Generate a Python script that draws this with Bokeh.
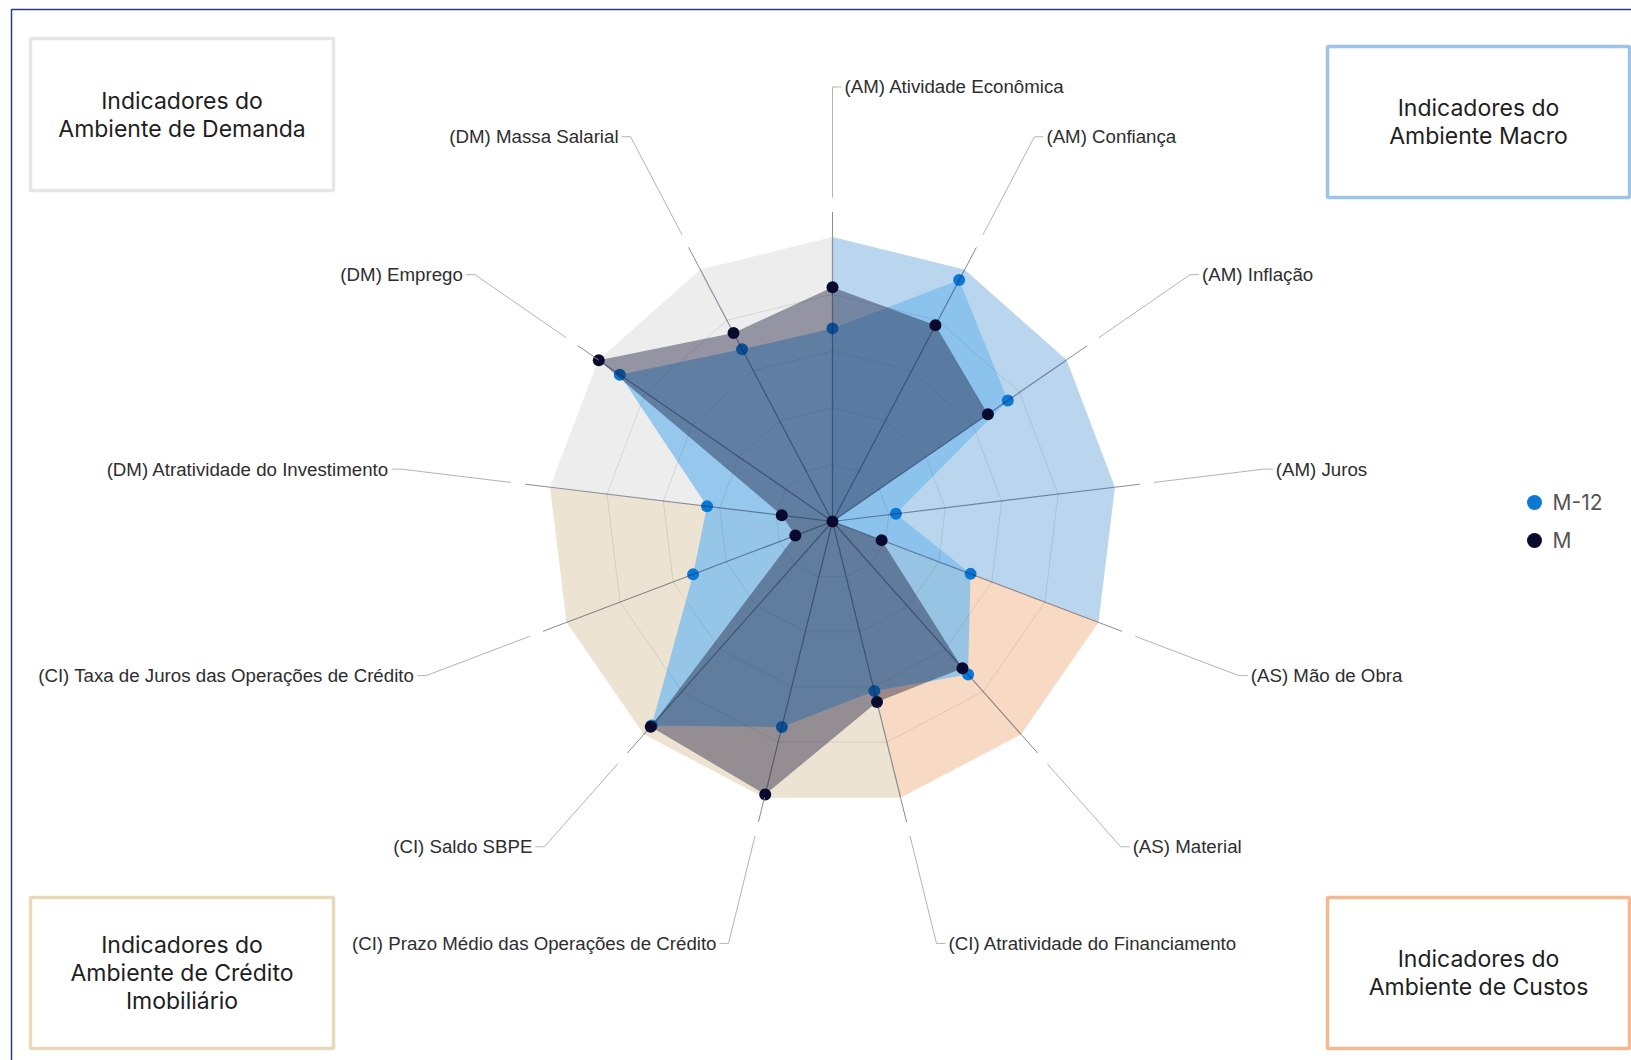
import numpy as np
from bokeh.plotting import figure
from bokeh.models import Range1d
from bokeh.core.properties import value
from bokeh.embed import file_html
from bokeh.resources import INLINE

# Indicators, clockwise from the top of the radar
indicators = [
    "(AM) Atividade Econômica",
    "(AM) Confiança",
    "(AM) Inflação",
    "(AM) Juros",
    "(AS) Mão de Obra",
    "(AS) Material",
    "(CI) Atratividade do Financiamento",
    "(CI) Prazo Médio das Operações de Crédito",
    "(CI) Saldo SBPE",
    "(CI) Taxa de Juros das Operações de Crédito",
    "(DM) Atratividade do Investimento",
    "(DM) Emprego",
    "(DM) Massa Salarial",
]
m12_scores = [68, 96, 75, 22.5, 52, 72, 61.5, 74.5, 96, 52.5, 44.5, 91, 68.5]
m_scores = [82.5, 78, 66.5, 0, 18.5, 69, 65.5, 99, 96.5, 14, 18, 100, 75]
series_names = ["M-12", "M"]
scale_max = 100
ring_levels = [20, 40, 60, 80]

# Environment groups: index of the first indicator of each group
group_starts = [0, 4, 6, 10]
group_titles = [
    ["Indicadores do", "Ambiente Macro"],
    ["Indicadores do", "Ambiente de Custos"],
    ["Indicadores do", "Ambiente de Crédito", "Imobiliário"],
    ["Indicadores do", "Ambiente de Demanda"],
]
group_fill = ["#bad6ef", "#f8dac4", "#ede3d2", "#ededed"]
group_border = ["#9dc3e6", "#f5b990", "#e8d9bb", "#e6e6e6"]

# ---- page geometry (pixels) ----
W, H = 1631, 1060
CX, CY = 832, 521          # radar centre
S = 2.84                   # pixels per score unit (outer ring = 100)


def px(x, y):
    """pixel position on the page -> data coordinates"""
    return (x - CX) / S, (CY - y) / S


p = figure(
    width=W, height=H,
    x_range=Range1d(-CX / S, (W - CX) / S),
    y_range=Range1d(-(H - CY) / S, CY / S),
    x_axis_type=None, y_axis_type=None,
    toolbar_location=None, output_backend="svg",
    min_border=0, outline_line_color=None,
    background_fill_color="white", border_fill_color="white",
)
p.grid.grid_line_color = None

n = len(indicators)
theta = 2 * np.pi * np.arange(n) / n
ux, uy = np.sin(theta), np.cos(theta)

# outer frame
fl, ft = px(11, 9)
fr, fb = px(1700, 1120)
p.quad(left=fl, right=fr, top=ft, bottom=fb, fill_color=None,
       line_color="#2e3a87", line_width=1.5)

# ---- background sectors per environment ----
xs, ys = [], []
for g, start in enumerate(group_starts):
    end = group_starts[(g + 1) % len(group_starts)]
    if end <= start:
        end += n
    idx = [k % n for k in range(start, end + 1)]
    xs.append([0.0] + [scale_max * ux[k] for k in idx])
    ys.append([0.0] + [scale_max * uy[k] for k in idx])
p.patches(xs, ys, fill_color=group_fill, line_color=group_fill, line_width=1)

# ---- series ----
m12 = np.array(m12_scores, dtype=float)
m = np.array(m_scores, dtype=float)

p.patch(m12 * ux, m12 * uy, fill_color="#80beec", fill_alpha=0.8, line_color=None)
p.scatter(m12 * ux, m12 * uy, size=12, fill_color="#0a78d4", line_color=None)
p.patch(m * ux, m * uy, fill_color="#0f0f32", fill_alpha=0.4, line_color=None)

# rings
ring_x = [list(lv * np.append(ux, ux[0])) for lv in ring_levels]
ring_y = [list(lv * np.append(uy, uy[0])) for lv in ring_levels]
p.multi_line(ring_x, ring_y, line_color="#28324f", line_alpha=0.12, line_width=1)

# spokes
p.multi_line([[0, scale_max * a] for a in ux], [[0, scale_max * b] for b in uy],
             line_color="#142040", line_alpha=0.45, line_width=1.2)

p.scatter(m * ux, m * uy, size=12, fill_color="#0a0a2e", line_color=None)

# ---- leader lines and labels ----
r_gap0, r_gap1, r_lead = 1.09 * scale_max, 1.14 * scale_max, 1.53 * scale_max
tick = 9 / S
pad = 3 / S
p.multi_line([[scale_max * a, r_gap0 * a] for a in ux],
             [[scale_max * b, r_gap0 * b] for b in uy],
             line_color="#8c8c8c", line_width=1)

lead_x, lead_y, lab_x, lab_y, aligns = [], [], [], [], []
for k in range(n):
    side = 1 if ux[k] >= -1e-9 else -1
    ex, ey = r_lead * ux[k], r_lead * uy[k]
    lead_x.append([r_gap1 * ux[k], ex, ex + side * tick])
    lead_y.append([r_gap1 * uy[k], ey, ey])
    lab_x.append(ex + side * (tick + pad))
    lab_y.append(ey)
    aligns.append("left" if side > 0 else "right")
p.multi_line(lead_x, lead_y, line_color="#b4b4b4", line_width=1)
p.text(x=lab_x, y=lab_y, text=indicators, text_align=aligns,
       text_baseline="middle", text_font=value("Liberation Sans"),
       text_font_size="18.7px", text_color="#2e2e2e")

# ---- environment boxes ----
boxes = [(1327, 46, 1629, 197), (1327, 897, 1629, 1048),
         (30, 897, 333, 1048), (30, 38, 333, 190)]
for (x0, y0, x1, y1), col, lines in zip(boxes, group_border, group_titles):
    l, t = px(x0, y0)
    r, b = px(x1, y1)
    p.quad(left=l, right=r, top=t, bottom=b, fill_color=None,
           line_color=col, line_width=3.5)
    cx_box = (x0 + x1) / 2
    cy_box = (y0 + y1) / 2
    lh = 28
    y_first = cy_box - lh * (len(lines) - 1) / 2
    tx, ty = [], []
    for i in range(len(lines)):
        a, c = px(cx_box, y_first + i * lh)
        tx.append(a)
        ty.append(c)
    p.text(x=tx, y=ty, text=lines, text_align="center", text_baseline="middle",
           text_font=value("Inter"), text_font_size="23px", text_color="#1e1e1e")

# ---- legend ----
leg_colors = ["#0a78d4", "#0a0a2e"]
lx, ly = [], []
tx, ty = [], []
for i in range(len(series_names)):
    a, b = px(1534, 502 + 38 * i)
    lx.append(a)
    ly.append(b)
    a, b = px(1552, 502 + 38 * i)
    tx.append(a)
    ty.append(b)
p.scatter(lx, ly, size=15, fill_color=leg_colors, line_color=None)
p.text(x=tx, y=ty, text=series_names, text_align="left", text_baseline="middle",
       text_font=value("Inter"), text_font_size="21px", text_color="#555555")

open("out.html", "w").write(file_html(p, INLINE))
